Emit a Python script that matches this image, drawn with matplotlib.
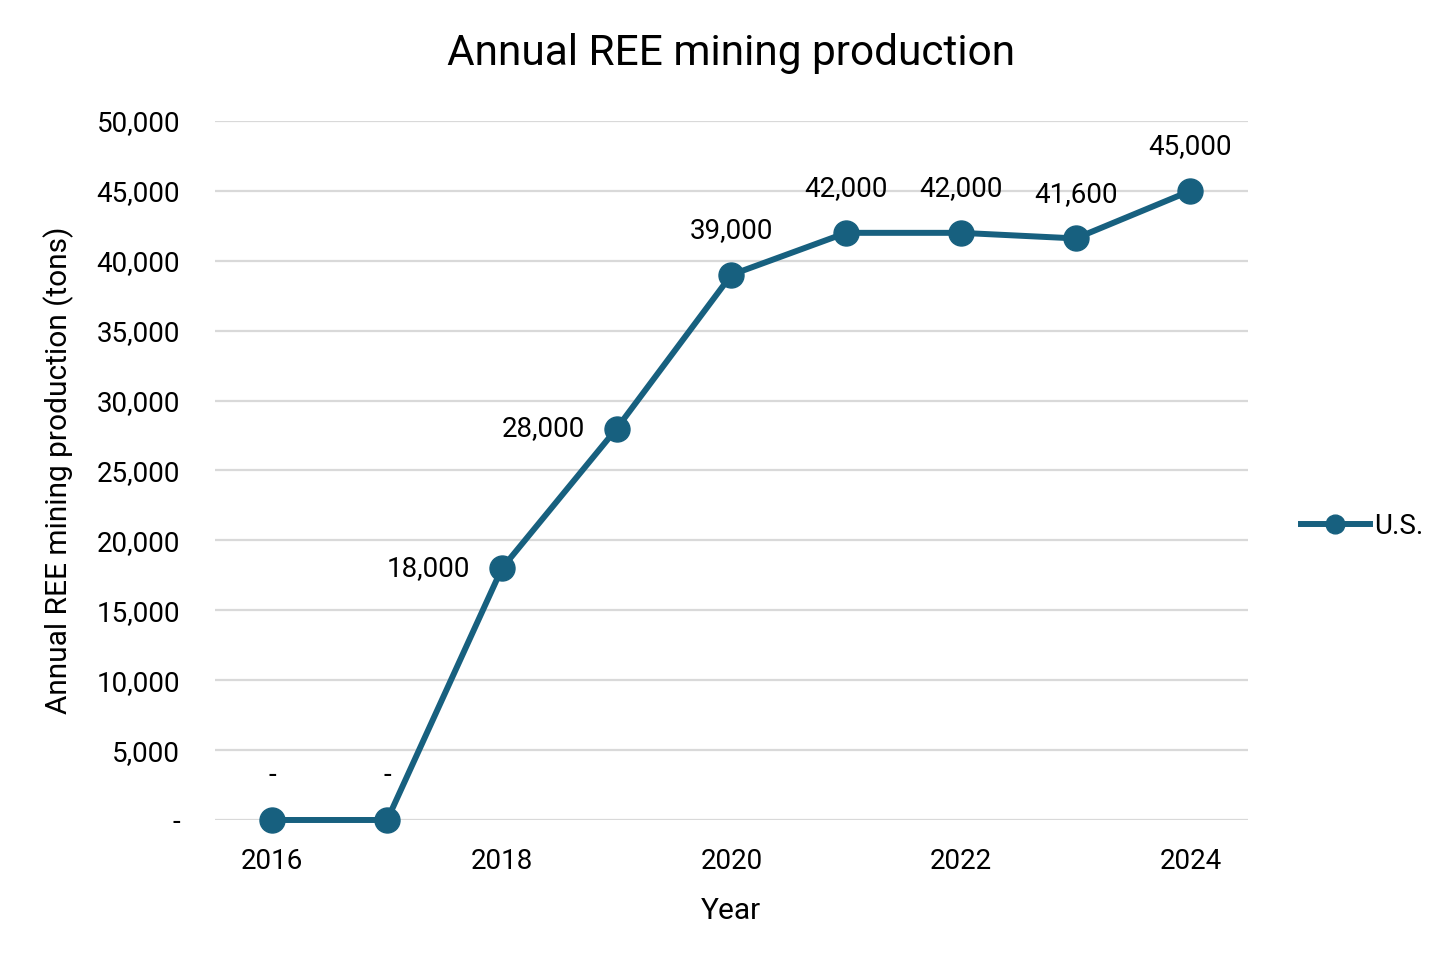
import matplotlib
matplotlib.use('Agg')
from matplotlib import pyplot as plt
from matplotlib.ticker import FuncFormatter

years = [2016, 2017, 2018, 2019, 2020, 2021, 2022, 2023, 2024]
production = [0, 0, 18000, 28000, 39000, 42000, 42000, 41600, 45000]
label_side = ['above', 'above', 'left', 'left', 'above', 'above', 'above', 'above', 'above']

LINE_COLOR = '#17607f'
plt.rcParams['font.family'] = ['Roboto', 'DejaVu Sans']

fig = plt.figure(figsize=(14.56, 9.68), dpi=100)
ax = fig.add_axes([0.1477, 0.1529, 0.7093, 0.7221])

ax.plot(years, production, color=LINE_COLOR, linewidth=4.3, marker='o',
        markersize=18, label='U.S.', zorder=3, clip_on=False)

for x, y, side in zip(years, production, label_side):
    text = '-' if y == 0 else '{:,}'.format(y)
    if side == 'above':
        ax.annotate(text, (x, y), xytext=(0, 22), textcoords='offset points',
                    ha='center', va='bottom', fontsize=20)
    else:
        ax.annotate(text, (x, y), xytext=(-23, 0), textcoords='offset points',
                    ha='right', va='center', fontsize=20)

ax.set_xlim(2015.5, 2024.5)
ax.set_ylim(0, 50000)
ax.set_xticks([2016, 2018, 2020, 2022, 2024])
ax.set_yticks(range(0, 50001, 5000))
ax.yaxis.set_major_formatter(FuncFormatter(lambda v, p: '-' if v == 0 else '{:,.0f}'.format(v)))
ax.tick_params(axis='both', length=0, labelsize=20)
ax.tick_params(axis='y', pad=25)
ax.tick_params(axis='x', pad=20)
ax.grid(axis='y', color='#d9d9d9', linewidth=1.6)
ax.set_axisbelow(True)
for s in ax.spines.values():
    s.set_visible(False)

ax.set_title('Annual REE mining production', fontsize=30.5, pad=40)
ax.set_xlabel('Year', fontsize=21.5, labelpad=16)
ax.set_ylabel('Annual REE mining production (tons)', fontsize=21.5, labelpad=16)

leg = ax.legend(loc='center left', bbox_to_anchor=(1.027, 0.42), frameon=False,
                fontsize=20, handlelength=2.5, handletextpad=0.15, markerscale=0.75)

plt.savefig('out.png', dpi=100)
